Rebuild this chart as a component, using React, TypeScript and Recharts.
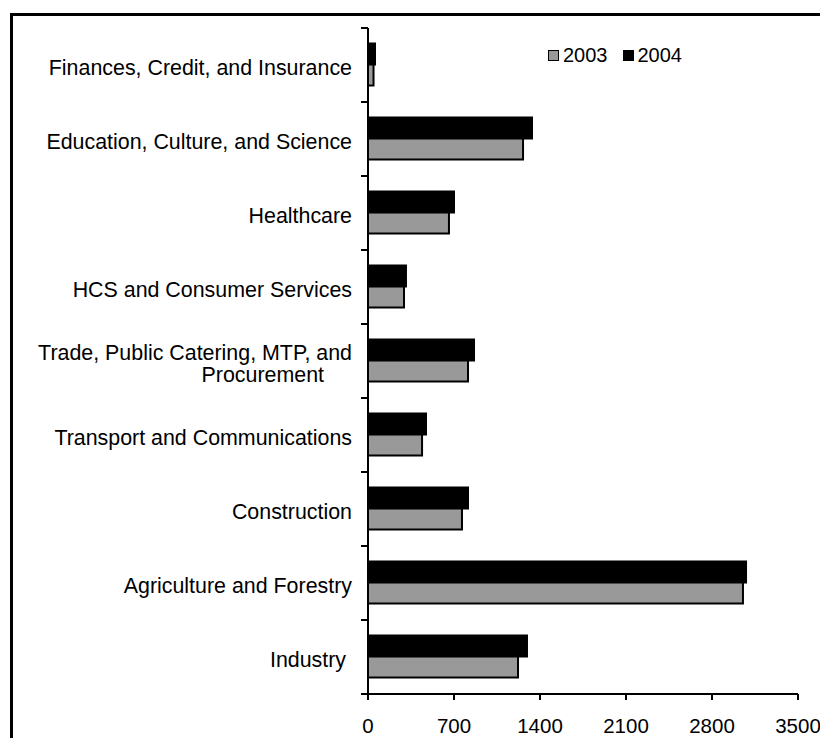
import React from 'react';
import { BarChart, Bar, XAxis, YAxis } from 'recharts';

const categories = [
  'Finances, Credit, and Insurance',
  'Education, Culture, and Science',
  'Healthcare',
  'HCS and Consumer Services',
  'Trade, Public Catering, MTP, and\nProcurement',
  'Transport and Communications',
  'Construction',
  'Agriculture and Forestry',
  'Industry\u00A0',
];
const values2003 = [45, 1262, 659, 293, 814, 440, 765, 3052, 1221];
const values2004 = [57, 1335, 700, 309, 863, 472, 814, 3077, 1294];
const xTicks = [0, 700, 1400, 2100, 2800, 3500];
const seriesNames = ['2003', '2004'];
const seriesColors = ['#999999', '#000000'];

const data = categories.map((c, i) => ({
  category: c,
  y2003: values2003[i],
  y2004: values2004[i],
}));

const PAGE_W = 820;
const PAGE_H = 738;
const W = 812;
const H = 730;
const MARGIN = { top: 20, right: 22, bottom: 14, left: 0 };
const Y_W = 360;
const X_H = 30;
const FONT = 'Liberation Sans, Arial, Helvetica, sans-serif';
const BAND = (H - MARGIN.top - MARGIN.bottom - X_H) / categories.length;
const LABEL_GAP = 16;

function CategoryTick(props: any) {
  const { x, y, payload, index } = props;
  const lines = String(payload.value).split('\n');
  const axisX = x + LABEL_GAP;
  const lh = 22;
  const startY = y + 3 - ((lines.length - 1) * lh) / 2;
  return (
    <g>
      <line x1={axisX - 7} x2={axisX} y1={y - BAND / 2} y2={y - BAND / 2} stroke="#000" strokeWidth={2} />
      {index === categories.length - 1 && (
        <line x1={axisX - 7} x2={axisX} y1={y + BAND / 2} y2={y + BAND / 2} stroke="#000" strokeWidth={2} />
      )}
      {lines.map((ln, i) => (
        <text
          key={i}
          x={i === 0 ? x : x - 28}
          y={startY + i * lh}
          dy="0.35em"
          textAnchor="end"
          fontFamily={FONT}
          fontSize={21.4}
          fill="#000"
        >
          {ln}
        </text>
      ))}
    </g>
  );
}

export default function App() {
  return (
    <div
      style={{
        position: 'relative',
        width: PAGE_W,
        height: PAGE_H,
        overflow: 'hidden',
        background: '#fff',
      }}
    >
      <style>{'html,body{margin:0;padding:0;overflow:hidden;}'}</style>
      <div
        style={{
          position: 'absolute',
          left: 10,
          top: 13,
          width: 1000,
          height: 1000,
          border: '3px solid #000',
          boxSizing: 'border-box',
        }}
      />
      <div style={{ position: 'absolute', left: 8, top: 8 }}>
        <BarChart
          width={W}
          height={H}
          data={data}
          layout="vertical"
          margin={MARGIN}
          barCategoryGap="21%"
          barGap={0}
        >
          <XAxis
            type="number"
            domain={[0, 3500]}
            ticks={xTicks}
            interval={0}
            height={X_H}
            axisLine={{ stroke: '#000', strokeWidth: 2 }}
            tickLine={{ stroke: '#000', strokeWidth: 2 }}
            tickSize={6}
            tickMargin={18}
            tick={{ fontFamily: FONT, fontSize: 20.5, fill: '#000' }}
          />
          <YAxis
            type="category"
            dataKey="category"
            width={Y_W}
            interval={0}
            axisLine={{ stroke: '#000', strokeWidth: 2 }}
            tickLine={false}
            tickSize={0}
            tickMargin={LABEL_GAP}
            tick={<CategoryTick />}
          />
          <Bar dataKey="y2004" name={seriesNames[1]} fill={seriesColors[1]} stroke="#000" strokeWidth={2} isAnimationActive={false} />
          <Bar dataKey="y2003" name={seriesNames[0]} fill={seriesColors[0]} stroke="#000" strokeWidth={2} isAnimationActive={false} />
        </BarChart>
      </div>
      <div
        style={{
          position: 'absolute',
          left: 548,
          top: 44,
          display: 'flex',
          alignItems: 'center',
          fontFamily: FONT,
          fontSize: 20,
          lineHeight: '23px',
          color: '#000',
        }}
      >
        {seriesNames.map((n, i) => (
          <div key={n} style={{ display: 'flex', alignItems: 'center', marginRight: 15 }}>
            <span
              style={{
                display: 'inline-block',
                width: 11,
                height: 11,
                background: seriesColors[i],
                border: '1px solid #000',
                boxSizing: 'border-box',
                marginRight: 4,
              }}
            />
            <span>{n}</span>
          </div>
        ))}
      </div>
    </div>
  );
}
